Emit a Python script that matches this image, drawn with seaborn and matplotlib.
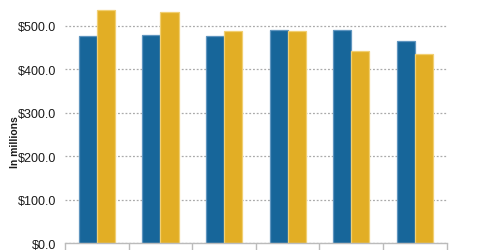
import matplotlib
matplotlib.use("Agg")
import matplotlib.pyplot as plt
import seaborn as sns
import pandas as pd
import numpy as np
from matplotlib.ticker import FuncFormatter, FixedLocator

categories = ["P1", "P2", "P3", "P4", "P5", "P6"]
series_a = [477, 479, 477, 491, 490, 466]
series_b = [537, 532, 489, 487, 443, 435]
series_names = ["Series A", "Series B"]
colors = ["#17669a", "#e2ae25"]
edge_colors = ["#5f95bf", "#f1cf72"]

df = pd.DataFrame({
    "cat": categories * 2,
    "val": series_a + series_b,
    "series": [series_names[0]] * 6 + [series_names[1]] * 6,
})

sns.set_style("white")
plt.rcParams["font.family"] = ["Liberation Sans", "DejaVu Sans"]

fig = plt.figure(figsize=(4.8, 2.51), dpi=100)
ax = fig.add_axes([65 / 480, (251 - 244.3) / 251, (446.7 - 65) / 480, 243.6 / 251])

sns.barplot(data=df, x="cat", y="val", hue="series", palette=colors,
            width=0.57, saturation=1, ax=ax, legend=False, linewidth=0.9)

for i, container in enumerate(ax.containers):
    for p in container:
        p.set_edgecolor(edge_colors[i])

ax.set_ylim(0, 560)
ax.set_xlim(-0.5, 5.5)
ax.yaxis.set_major_locator(FixedLocator([0, 100, 200, 300, 400, 500]))
ax.yaxis.set_major_formatter(FuncFormatter(lambda v, p: f"${v:,.1f}"))
ax.grid(axis="y", color="#aaaaaa", linestyle=(0, (1.5, 1.5)), linewidth=0.9)
ax.set_axisbelow(True)
ax.tick_params(axis="y", left=False, length=0, pad=6.5, labelsize=9, labelcolor="#1a1a1a")

ax.set_xticks(np.arange(len(categories)))
ax.set_xticklabels(categories)
ax.tick_params(axis="x", which="major", bottom=False, length=0, labelbottom=False)
ax.set_xticks(np.arange(-0.5, len(categories)), minor=True)
ax.tick_params(axis="x", which="minor", bottom=True, direction="out",
               length=5, color="#bbbbbb", width=1)

for s in ["top", "right", "left"]:
    ax.spines[s].set_visible(False)
ax.spines["bottom"].set_color("#bbbbbb")
ax.spines["bottom"].set_linewidth(1)

ax.set_xlabel("")
ax.set_ylabel("In millions", fontsize=7.5, fontweight="bold", color="#1a1a1a")
ax.yaxis.set_label_coords(-0.118, 0.42)

fig.savefig("out.png", dpi=100)
